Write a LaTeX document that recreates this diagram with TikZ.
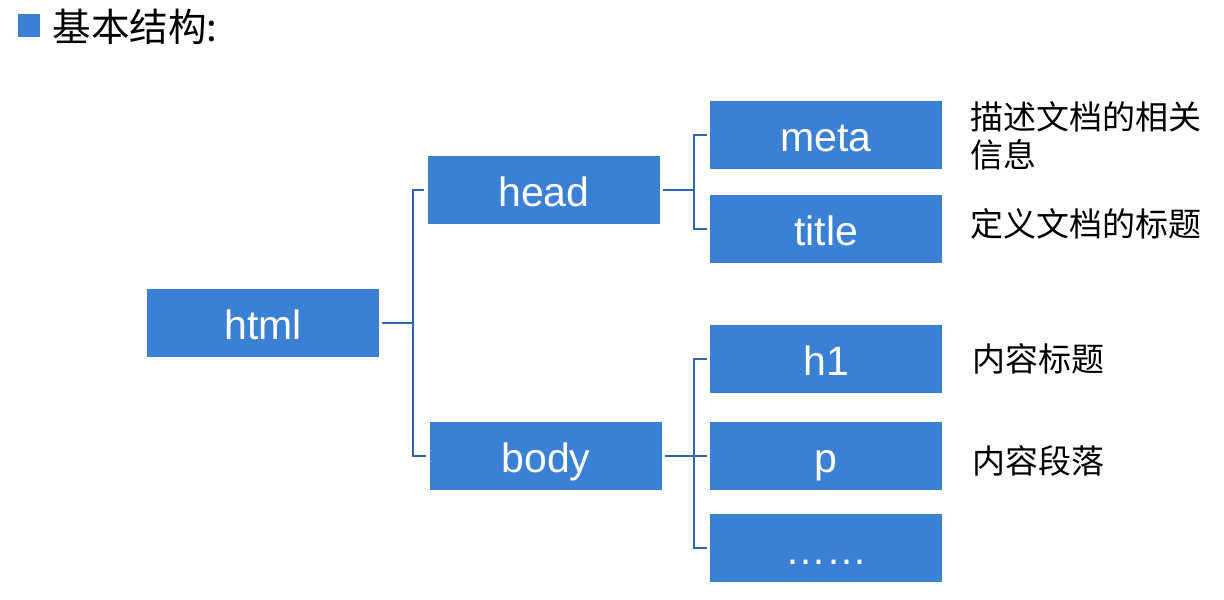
\documentclass[tikz,border=0pt]{standalone}
\usepackage{fontspec}
\setmainfont{Liberation Sans}
\newfontfamily\cjk{Noto Sans CJK SC}
\definecolor{boxblue}{HTML}{3A80D5}
\definecolor{lineblue}{HTML}{2F65B1}
\begin{document}
\begin{tikzpicture}[x=0.5pt,y=-0.5pt,
  box/.style={fill=boxblue,draw=none,minimum width=116pt,minimum height=34pt,inner sep=0pt,
    text height=20pt,text depth=4pt,
    text=white,font=\fontsize{20.5pt}{24pt}\selectfont},
  conn/.style={draw=lineblue,line width=1.4pt},
  lab/.style={anchor=west,inner sep=0pt,font=\cjk\fontsize{16.5pt}{19pt}\selectfont,align=left}]
\useasboundingbox (0,0) rectangle (1224,599);
\fill[boxblue] (18,14) rectangle (40,37);
\node[anchor=west,inner sep=0pt,font=\cjk\fontsize{19.3pt}{22pt}\selectfont] (ttl) at (52,27) {基本结构:};
\node[box] (html) at (263,323) {html};
\node[box] (head) at (544,190) {head};
\node[box] (body) at (546,456) {body};
\node[box] (meta) at (826,135) {meta};
\node[box] (title) at (826,229) {title};
\node[box] (h1) at (826,359) {h1};
\node[box] (p) at (826,456) {p};
\node[box] (dots) at (826,548) {……};
\coordinate (j1) at (413,323);
\coordinate (j2) at (694,190);
\coordinate (j3) at (694,456);
\draw[conn] ([xshift=1.5pt]html.east) -- (j1);
\draw[conn] ([xshift=-2pt]head.west) -| (j1) |- ([xshift=-2pt]body.west);
\draw[conn] ([xshift=1.5pt]head.east) -- (j2);
\draw[conn] ([xshift=-1.5pt]meta.west) -| (j2) |- ([xshift=-1.5pt]title.west);
\draw[conn] ([xshift=1.5pt]body.east) -- (j3);
\draw[conn] ([xshift=-1.5pt]h1.west) -| (j3) |- ([xshift=-1.5pt]dots.west);
\draw[conn] (j3) -- ([xshift=-1.5pt]p.west);
\node[lab] (lmeta) at (970,136) {描述文档的相关\\信息};
\node[lab] (ltitle) at (970,224) {定义文档的标题};
\node[lab] (lh1) at (972,359) {内容标题};
\node[lab] (lp) at (972,461) {内容段落};
\end{tikzpicture}
\end{document}
